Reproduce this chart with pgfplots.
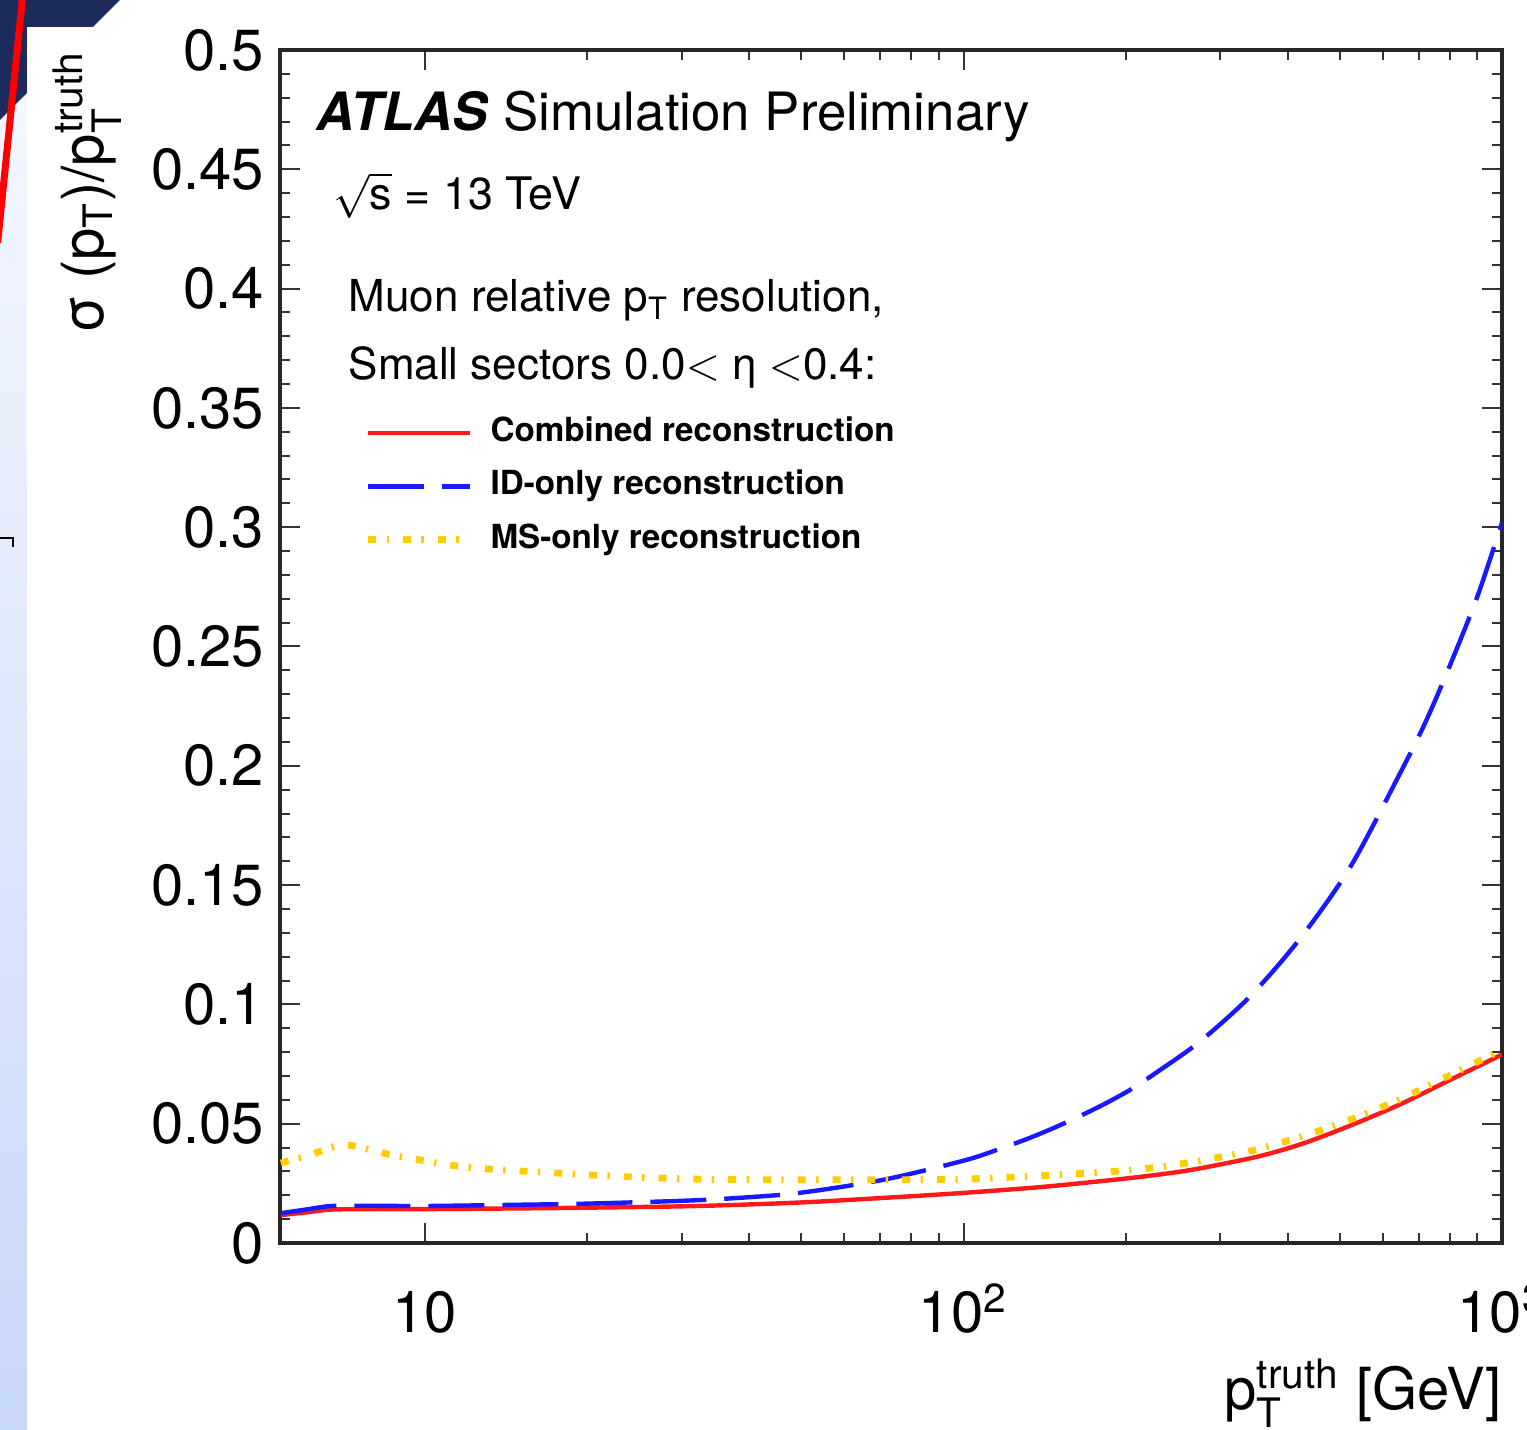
\documentclass[border=0pt]{standalone}
\usepackage{fontspec}
\setmainfont{TeX Gyre Heros}
\usepackage{amsmath}
\usepackage{pgfplots}
\pgfplotsset{compat=1.18}

\definecolor{cred}{RGB}{255,25,25}
\definecolor{cblue}{RGB}{25,25,255}
\definecolor{cyel}{RGB}{255,204,0}
\definecolor{navy}{RGB}{28,42,92}
\definecolor{slidetop}{RGB}{246,249,255}
\definecolor{slidebot}{RGB}{200,216,248}

% sigma(pT)/pT vs pT truth
\pgfplotstableread{
pt     res
5.4    0.0117
6.0    0.0128
6.7    0.0140
8      0.0142
10     0.0142
15     0.0145
20     0.0148
32     0.0155
50     0.0170
76     0.0193
100    0.0210
140    0.0235
196    0.0268
240    0.0292
275    0.0313
350    0.0361
423    0.0414
520    0.0490
648    0.0582
800    0.0683
1000   0.0790
}\combined

\pgfplotstableread{
pt     res
5.4    0.0125
6.0    0.0140
6.7    0.0155
8      0.0156
10     0.0155
14.6   0.0160
20     0.0165
31     0.0178
40     0.0192
50     0.0211
71     0.0265
100    0.0345
117    0.0395
135    0.0447
155    0.0505
180    0.0575
205    0.0645
230    0.0720
275    0.0845
341    0.1035
423    0.1280
524    0.1580
647    0.1970
720    0.2180
800    0.2420
900    0.2710
1000   0.3020
}\idonly

\pgfplotstableread{
pt     res
5.4    0.0335
5.7    0.0350
6.0    0.0362
6.4    0.0385
6.8    0.0405
7.2    0.0410
7.6    0.0400
8.2    0.0382
8.8    0.0365
9.5    0.0353
11     0.0328
12.6   0.0313
15     0.0302
17.6   0.0293
23     0.0279
31.5   0.0268
45     0.0265
70     0.0265
100    0.0268
140    0.0282
190    0.0300
230    0.0318
275    0.0345
340    0.0385
423    0.0445
520    0.0515
648    0.0603
800    0.0703
1000   0.0810
}\msonly

\begin{document}
\begin{tikzpicture}
% bits of the slide behind the plot
\shade[top color=slidetop, bottom color=slidebot] (-70pt,-46.75pt) rectangle (-63.25pt,310.75pt);
\fill[navy] (-70pt,310.75pt) -- (-40pt,310.75pt) -- (-46.75pt,304pt) -- (-63.25pt,304pt)
  -- (-63.25pt,287.5pt) -- (-70pt,280.75pt) -- cycle;
\draw[red, line width=1.75pt] (-64.3pt,312pt) -- (-70.6pt,250pt);
\draw[black, line width=0.6pt] (-70pt,176.25pt) -- (-66.8pt,176.25pt) -- (-66.8pt,174pt);

\begin{axis}[
  scale only axis,
  width=305.5pt, height=298.25pt,
  xmode=log,
  xmin=5.38, xmax=1000,
  ymin=0, ymax=0.5,
  xtick={10,100,1000},
  xticklabels={10,10\textsuperscript{2},10\textsuperscript{3}},
  ytick={0,0.05,0.1,0.15,0.2,0.25,0.3,0.35,0.4,0.45,0.5},
  yticklabels={0,0.05,0.1,0.15,0.2,0.25,0.3,0.35,0.4,0.45,0.5},
  minor y tick num=4,
  /pgf/number format/assume math mode=true,
  axis line style={line width=0.8pt, black!85},
  every tick/.style={black!80, line width=0.5pt},
  major tick length=5pt,
  minor tick length=2.6pt,
  tick label style={font=\fontsize{14.5}{17}\selectfont},
  yticklabel style={anchor=east, inner sep=0pt, xshift=-3.75pt},
  xticklabel style={anchor=base, inner sep=0pt, yshift=-22.5pt},
  xlabel={p$^{\text{truth}}_{\text{T}}$ [GeV]},
  xlabel style={at={(rel axis cs:1,-0.0964)}, anchor=north east, inner sep=0pt,
    font=\fontsize{14.5}{17}\selectfont},
  ylabel={σ (p$_{\text{T}}$)/p$^{\text{truth}}_{\text{T}}$},
  ylabel style={at={(rel axis cs:-0.129,1)}, anchor=south east, inner sep=0pt,
    font=\fontsize{14.5}{17}\selectfont},
  legend style={at={(rel axis cs:0.0687,0.6925)}, anchor=north west, draw=none, fill=none,
    inner sep=0pt, row sep=5.5pt, font=\fontsize{8.3}{10}\selectfont\bfseries,
    nodes={inner sep=0pt, text height=6pt, text depth=1.8pt}},
  legend cell align=left,
  legend image code/.code={\draw[#1] (0pt,0pt) -- (25.5pt,0pt);},
  /tikz/every odd column/.append style={column sep=4.25pt},
]
\addplot[cred, line width=1.1pt, smooth] table[x=pt, y=res] {\combined};
\addplot[cblue, line width=1.1pt, dash pattern=on 14pt off 4.5pt, smooth] table[x=pt, y=res] {\idonly};
\addplot[cyel, line width=1.7pt, dash pattern=on 2pt off 2.6pt on 0.6pt off 3.5pt, smooth] table[x=pt, y=res] {\msonly};
\legend{Combined reconstruction, ID-only reconstruction, MS-only reconstruction}

\node[anchor=base west, inner sep=0pt, font=\fontsize{13.2}{15}\selectfont]
  at (rel axis cs:0.0295,0.9329) {\textbf{\textit{ATLAS}} Simulation Preliminary};
\node[anchor=base west, inner sep=0pt, font=\fontsize{11.2}{14}\selectfont]
  at (rel axis cs:0.043,0.8659) {$\sqrt{\text{s}}$ = 13 TeV};
\node[anchor=base west, inner sep=0pt, font=\fontsize{11}{13}\selectfont]
  at (rel axis cs:0.0556,0.7804) {Muon relative p$_{\text{T}}$ resolution,};
\node[anchor=base west, inner sep=0pt, font=\fontsize{11}{13}\selectfont]
  at (rel axis cs:0.0556,0.7234) {Small sectors 0.0$<$ η $<$0.4:};
\end{axis}

\pgfresetboundingbox
\useasboundingbox (-70pt,-46.75pt) rectangle (311.75pt,310.75pt);
\end{tikzpicture}
\end{document}
